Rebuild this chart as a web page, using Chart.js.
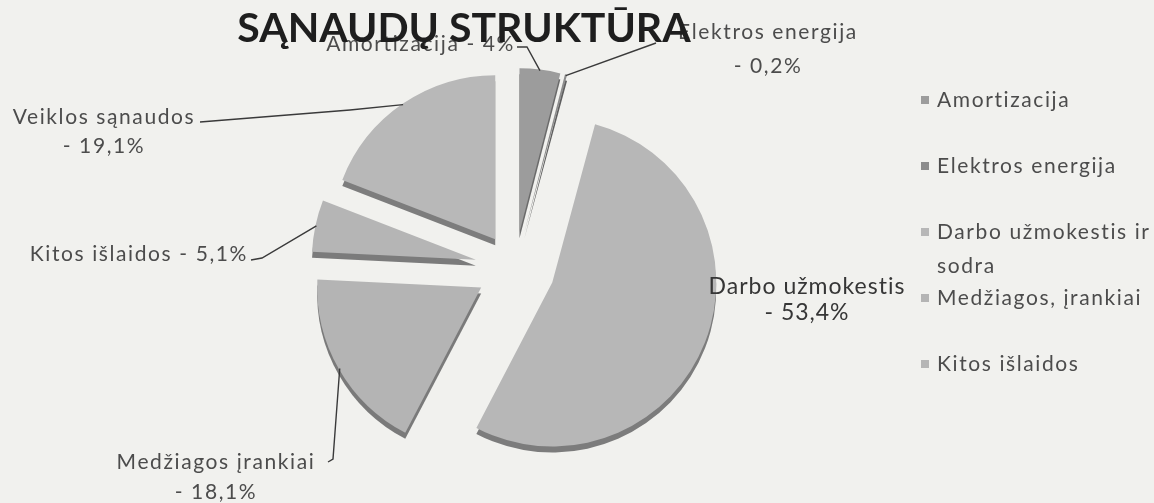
<!DOCTYPE html>
<html><head><meta charset="utf-8">
<script src="https://cdn.jsdelivr.net/npm/chart.js@4.4.0/dist/chart.umd.min.js"></script>
<style>
html,body{margin:0;padding:0;background:#f1f1ee;}
#wrap{width:1154px;height:503px;position:relative;overflow:hidden;}
</style>
</head><body>
<div id="wrap"><canvas id="c"></canvas></div>
<script>
const chartTitle = 'SĄNAUDŲ STRUKTŪRA';
const categories = ['Amortizacija', 'Elektros energija', 'Darbo užmokestis ir sodra', 'Medžiagos, įrankiai', 'Kitos išlaidos', 'Veiklos sąnaudos'];
const values = [4, 0.2, 53.4, 18.1, 5.1, 19.1];
const calloutNames = ['Amortizacija', 'Elektros energija', 'Darbo užmokestis', 'Medžiagos įrankiai', 'Kitos išlaidos', 'Veiklos sąnaudos'];
const legendLabels = [['Amortizacija'], ['Elektros energija'], ['Darbo užmokestis ir', 'sodra'], ['Medžiagos, įrankiai'], ['Kitos išlaidos']];
const sliceColors = ['#9c9c9c', '#8c8c8c', '#b7b7b7', '#b4b4b4', '#b5b5b5', '#b8b8b8'];

const fmtPct = v => '- ' + String(v).replace('.', ',') + '%';

// label layout (style only)
const calloutStyle = [
  { oneLine: true, x: 515, y: [44], align: 'right', leader: [[517, 47], [527, 47]] },
  { oneLine: false, x: 768, y: [32, 66], align: 'center', leader: [[656, 43]] },
  { oneLine: false, x: 807, y: [287, 313], align: 'center', leader: null, big: true },
  { oneLine: false, x: 216, y: [462, 492], align: 'center', leader: [[328, 462], [333, 459]] },
  { oneLine: true, x: 248, y: [254], align: 'right', leader: [[251, 260], [262, 258]] },
  { oneLine: false, x: 104, y: [117, 146], align: 'center', leader: [[200, 122], [350, 110]] }
];

const FONT = 'Lato, "Open Sans", sans-serif';

function setSpacing(ctx, v) { if ('letterSpacing' in ctx) ctx.letterSpacing = v; }

const explode3d = {
  id: 'explode3d',
  beforeDatasetDraw(chart, args, opts) {
    const ctx = chart.ctx;
    const arcs = args.meta.data;
    const d = opts.distances;
    arcs.forEach((arc, i) => {
      const mid = (arc.startAngle + arc.endAngle) / 2;
      ctx.save();
      ctx.translate(Math.cos(mid) * d[i], Math.sin(mid) * d[i] + opts.depth);
      ctx.filter = 'brightness(0.68)';
      arc.draw(ctx);
      ctx.restore();
    });
    arcs.forEach((arc, i) => {
      const mid = (arc.startAngle + arc.endAngle) / 2;
      ctx.save();
      ctx.translate(Math.cos(mid) * d[i], Math.sin(mid) * d[i]);
      arc.draw(ctx);
      ctx.restore();
    });
    return false;
  },
  afterDatasetsDraw(chart, args, opts) {
    const ctx = chart.ctx;
    const arcs = chart.getDatasetMeta(0).data;
    const d = opts.distances;
    ctx.save();
    arcs.forEach((arc, i) => {
      const st = calloutStyle[i];
      const mid = (arc.startAngle + arc.endAngle) / 2;
      if (st.leader) {
        const r = arc.outerRadius + d[i] - 1;
        const px = arc.x + Math.cos(mid) * r;
        const py = arc.y + Math.sin(mid) * r;
        ctx.beginPath();
        ctx.strokeStyle = '#3a3a3a';
        ctx.lineWidth = 1.4;
        ctx.moveTo(st.leader[0][0], st.leader[0][1]);
        for (let k = 1; k < st.leader.length; k++) ctx.lineTo(st.leader[k][0], st.leader[k][1]);
        ctx.lineTo(px, py);
        ctx.stroke();
      }
      const lines = st.oneLine ? [calloutNames[i] + ' ' + fmtPct(values[i])] : [calloutNames[i], fmtPct(values[i])];
      ctx.font = (st.big ? '23px ' : '21px ') + FONT;
      setSpacing(ctx, st.big ? '1px' : '1.6px');
      ctx.fillStyle = st.big ? '#363636' : '#4c4c4c';
      ctx.textAlign = st.align;
      ctx.textBaseline = 'middle';
      lines.forEach((t, k) => ctx.fillText(t, st.x, st.y[k]));
    });
    // legend
    const lg = opts.legend;
    ctx.textAlign = 'left';
    ctx.textBaseline = 'middle';
    ctx.font = '21px ' + FONT;
    setSpacing(ctx, '1.6px');
    legendLabels.forEach((lines, i) => {
      const y = lg.top + i * lg.step;
      ctx.fillStyle = sliceColors[i];
      ctx.fillRect(lg.x, y - 4, 8, 8);
      ctx.fillStyle = '#4c4c4c';
      lines.forEach((t, k) => ctx.fillText(t, lg.x + 16, y + k * lg.lineGap));
    });
    ctx.restore();
  },
  afterDraw(chart) {
    const ctx = chart.ctx;
    ctx.save();
    ctx.font = 'bold 41px ' + FONT;
    setSpacing(ctx, '0px');
    ctx.fillStyle = '#1e1e1e';
    ctx.textAlign = 'center';
    ctx.textBaseline = 'middle';
    ctx.fillText(chartTitle, 464, 29);
    ctx.restore();
  }
};

new Chart(document.getElementById('c'), {
  type: 'pie',
  data: {
    labels: categories,
    datasets: [{
      data: values,
      backgroundColor: sliceColors,
      borderWidth: 0
    }]
  },
  options: {
    responsive: true,
    maintainAspectRatio: false,
    animation: false,
    radius: 164,
    layout: { padding: { left: 0, right: 124, top: 40, bottom: 7 } },
    plugins: {
      legend: { display: false },
      title: { display: false },
      tooltip: { enabled: false },
      explode3d: {
        distances: [36, 36, 40, 39, 40, 35],
        depth: 6,
        legend: { x: 921, top: 100, step: 66, lineGap: 34 }
      }
    }
  },
  plugins: [explode3d]
});
</script>
</body></html>
